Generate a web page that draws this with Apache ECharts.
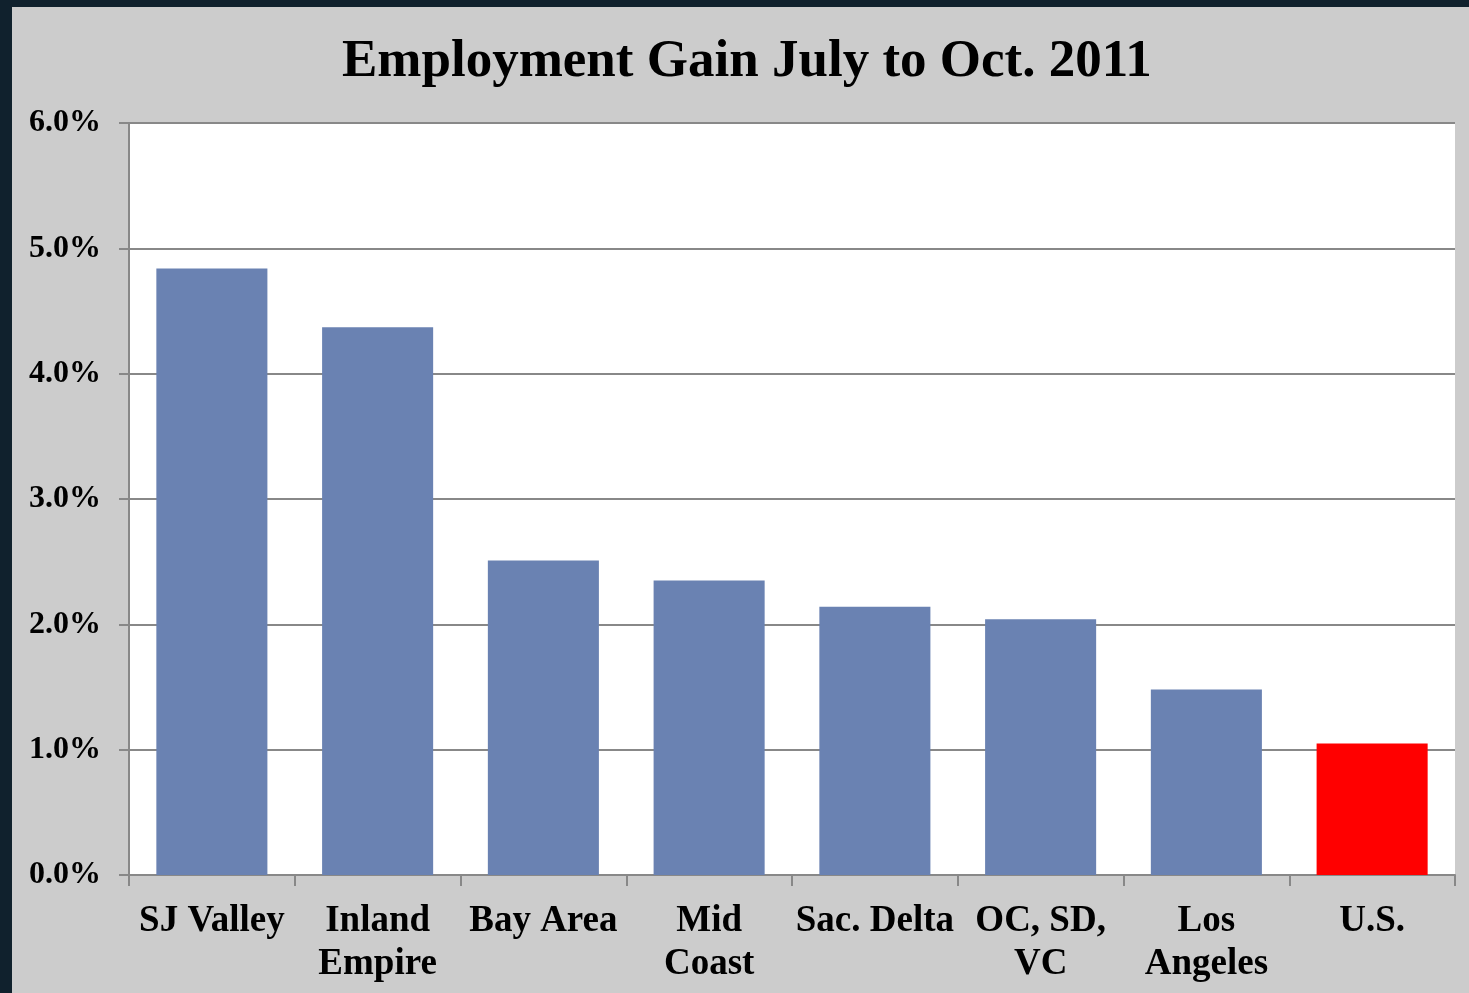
<!DOCTYPE html>
<html>
<head>
<meta charset="utf-8">
<script src="https://cdn.jsdelivr.net/npm/echarts@6/dist/echarts.min.js"></script>
<style>
  html, body { margin: 0; padding: 0; background: #10212d; width: 1469px; height: 993px; overflow: hidden; }
  #chart { position: absolute; left: 12px; top: 7px; width: 1457px; height: 986px; }
</style>
</head>
<body>
<div id="chart"></div>
<script>
// data
var categories = ['SJ Valley', 'Inland\nEmpire', 'Bay Area', 'Mid\nCoast', 'Sac. Delta', 'OC, SD,\nVC', 'Los\nAngeles', 'U.S.'];
var gains = [4.84, 4.37, 2.51, 2.35, 2.14, 2.04, 1.48, 1.05];
var barColors = ['#6a82b2', '#6a82b2', '#6a82b2', '#6a82b2', '#6a82b2', '#6a82b2', '#6a82b2', '#ff0000'];
var yTicks = [0, 1, 2, 3, 4, 5, 6];

var myChart = echarts.init(document.getElementById('chart'));
var font = '"Liberation Serif", "Times New Roman", serif';
var option = {
    backgroundColor: '#cccccc',
    animation: false,
    title: {
        text: 'Employment Gain July to Oct. 2011',
        left: 325,
        top: 24,
        textStyle: { fontFamily: font, fontWeight: 'bold', fontSize: 53, color: '#000' }
    },
    grid: { left: 117, right: 14, top: 116, bottom: 118, show: true, backgroundColor: '#fff', borderWidth: 0 },
    xAxis: {
        type: 'category',
        data: categories,
        axisLine: { lineStyle: { color: '#888', width: 2 } },
        axisTick: { show: true, length: 11, lineStyle: { color: '#888', width: 2 } },
        axisLabel: {
            interval: 0, margin: 25, lineHeight: 43,
            fontFamily: font, fontWeight: 'bold', fontSize: 37, color: '#000'
        }
    },
    yAxis: {
        type: 'value',
        min: yTicks[0],
        max: yTicks[yTicks.length - 1],
        interval: 1,
        axisLine: { show: true, lineStyle: { color: '#888', width: 2 } },
        axisTick: { show: true, length: 10, lineStyle: { color: '#888', width: 2 } },
        splitLine: { lineStyle: { color: '#888', width: 2 } },
        axisLabel: {
            margin: 28,
            fontFamily: font, fontWeight: 'bold', fontSize: 32, color: '#000',
            formatter: function (v) { return v.toFixed(1) + '%'; }
        }
    },
    series: [{
        type: 'bar',
        barCategoryGap: '33%',
        data: gains.map(function (v, i) {
            return { value: v, itemStyle: { color: barColors[i] } };
        })
    }]
};
myChart.setOption(option);
</script>
</body>
</html>
